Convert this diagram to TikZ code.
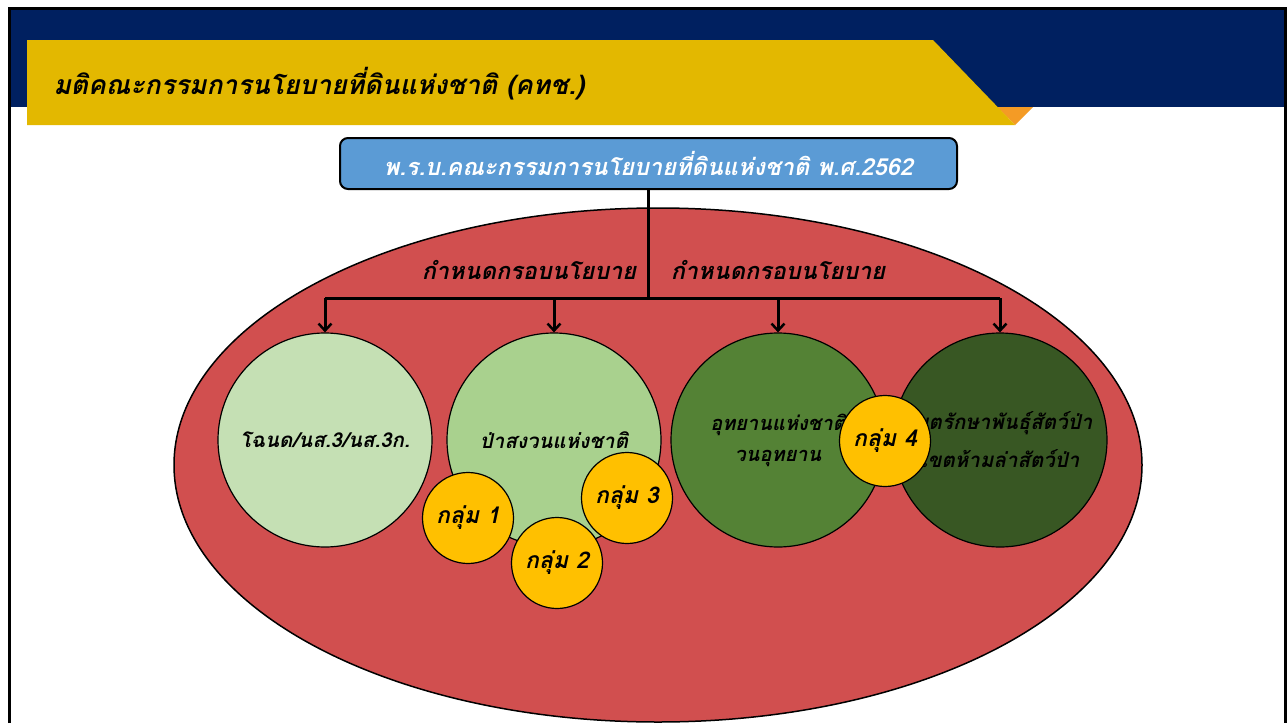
\documentclass[tikz,border=0pt]{standalone}
\usepackage{fontspec}
\newfontfamily\thaifont[Script=Thai]{Loma}
\usetikzlibrary{arrows.meta}

\definecolor{bandblue}{HTML}{002060}
\definecolor{bannergold}{HTML}{E3B800}
\definecolor{bannerorange}{HTML}{F49B25}
\definecolor{lawblue}{HTML}{5B9BD5}
\definecolor{areared}{HTML}{D14F4F}
\definecolor{landA}{HTML}{C5E0B4}
\definecolor{landB}{HTML}{A9D18E}
\definecolor{landC}{HTML}{548235}
\definecolor{landD}{HTML}{385723}
\definecolor{groupgold}{HTML}{FFC000}

\begin{document}
\begin{tikzpicture}[x=1pt,y=-1pt,
    thai/.style={font=\thaifont\bfseries\itshape},
    link/.style={line width=3pt},
    down/.style={link,-{Straight Barb[length=7pt,width=13pt,line width=2.5pt]}}]

        \useasboundingbox (0,0) rectangle (1288,723);

        % slide background
        \fill[white] (0,0) rectangle (1288,723);
        \fill[bandblue] (9,8) rectangle (1285,107);
        \fill[bannerorange] (997,107) -- (1033,107) -- (1015,125) -- cycle;
        \fill[bannergold] (27,40) -- (933,40) -- (1015,125) -- (27,125) -- cycle;
        \draw[line width=3pt] (9,723) -- (9,8) -- (1285,8) -- (1285,723);

        \node[thai,anchor=west,font=\thaifont\bfseries\itshape\fontsize{26.5}{30}\selectfont]
          (title) at (50,84) {มติคณะกรรมการนโยบายที่ดินแห่งชาติ (คทช.)};

        % policy area
        \filldraw[fill=areared,line width=1.5pt] (658,465) ellipse [x radius=484,y radius=257];

        \node[thai,draw,line width=2pt,fill=lawblue,rounded corners=8pt,
              minimum width=617pt,minimum height=51pt,text=white,
              font=\thaifont\bfseries\itshape\fontsize{23.5}{26}\selectfont]
          (law) at (648.5,163.5) {พ.ร.บ.คณะกรรมการนโยบายที่ดินแห่งชาติ พ.ศ.2562};

        \begin{scope}[every node/.style={thai,font=\thaifont\bfseries\itshape\fontsize{23.5}{26}\selectfont}]
          \node (frame1) at (529,270) {กำหนดกรอบนโยบาย};
          \node (frame2) at (778,270) {กำหนดกรอบนโยบาย};
        \end{scope}

        \begin{scope}[every node/.style={circle,draw,line width=1.2pt,minimum size=214pt,
                      thai,align=center,font=\thaifont\bfseries\itshape\fontsize{20.5}{38}\selectfont}]
          \node[fill=landA] (c1) at (325,440) {โฉนด/นส.3/นส.3ก.};
          \node[fill=landB] (c2) at (554,440) {ป่าสงวนแห่งชาติ};
          \node[fill=landC,font=\thaifont\bfseries\itshape\fontsize{20}{31}\selectfont]
            (c3) at (778,440) {อุทยานแห่งชาติ\\วนอุทยาน};
          \node[fill=landD] (c4) at (1000,440) {เขตรักษาพันธุ์สัตว์ป่า\\เขตห้ามล่าสัตว์ป่า};
        \end{scope}

        \coordinate (hub) at (law.south |- 0,298);
        \draw[link] (law.south) -- (hub);
        \draw[link] (c1.north |- hub) -- (c4.north |- hub);
        \draw[down] (c1.north |- hub) -- (c1.north);
        \draw[down] (c2.north |- hub) -- (c2.north);
        \draw[down] (c3.north |- hub) -- (c3.north);
        \draw[down] (c4.north |- hub) -- (c4.north);

        \begin{scope}[every node/.style={circle,draw,line width=1.2pt,fill=groupgold,minimum size=91pt,
                      inner sep=0pt,thai,font=\thaifont\bfseries\itshape\fontsize{23}{26}\selectfont}]
          \node (g1) at (468,518) {กลุ่ม 1};
          \node (g2) at (557,563) {กลุ่ม 2};
          \node (g3) at (627,498) {กลุ่ม 3};
          \node (g4) at (885,441) {กลุ่ม 4};
        \end{scope}

      \end{tikzpicture}
\end{document}
